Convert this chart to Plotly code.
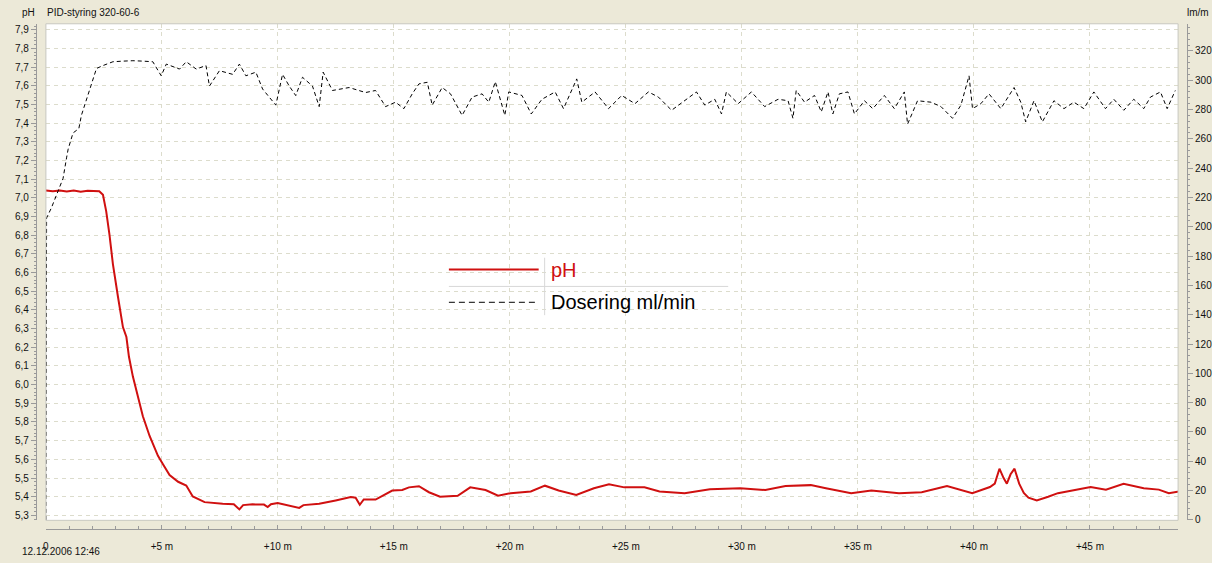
"""PID control log: pH and dosing flow over time."""
import plotly.graph_objects as go

W, H = 1212, 563

# pH curve (minutes after start, pH)
PH_MIN = [
    0, 0.3, 0.6, 0.9, 1.2, 1.5, 1.8, 2.1, 2.3, 2.46,
    2.6, 2.74, 2.89, 3.11, 3.32, 3.47, 3.58, 3.75, 3.97, 4.18,
    4.47, 4.83, 5.04, 5.33, 5.7, 6.05, 6.33, 6.84, 7.62, 8.1,
    8.34, 8.5, 8.91, 9.4, 9.56, 9.7, 9.99, 10.49, 10.92, 11.1,
    11.78, 12.49, 13.14, 13.35, 13.53, 13.7, 14.21, 14.93, 15.36, 15.65,
    16.08, 16.51, 16.99, 17.75, 18.29, 18.95, 19.49, 20.03, 20.9, 21.51,
    22.1, 22.86, 23.62, 24.27, 24.93, 25.8, 26.45, 27.53, 28.62, 29.93,
    31.01, 31.88, 32.97, 33.62, 34.71, 35.58, 36.77, 37.75, 38.84, 39.93,
    40.69, 40.9, 41.1, 41.28, 41.42, 41.58, 41.75, 41.95, 42.15, 42.35,
    42.71, 43.2, 43.62, 45.03, 45.69, 46.45, 47.32, 47.97, 48.4, 48.84,
]
PH_VAL = [
    7.04, 7.035, 7.04, 7.034, 7.04, 7.033, 7.038, 7.036, 7.035, 7.016,
    6.928, 6.803, 6.644, 6.468, 6.308, 6.255, 6.149, 6.043, 5.937, 5.831,
    5.725, 5.619, 5.575, 5.516, 5.48, 5.46, 5.401, 5.371, 5.362, 5.36,
    5.332, 5.355, 5.359, 5.358, 5.345, 5.36, 5.366, 5.35, 5.34, 5.355,
    5.362, 5.38, 5.398, 5.395, 5.357, 5.385, 5.385, 5.433, 5.436, 5.45,
    5.456, 5.424, 5.40, 5.405, 5.45, 5.436, 5.405, 5.419, 5.428, 5.459,
    5.433, 5.41, 5.445, 5.467, 5.45, 5.45, 5.428, 5.419, 5.44, 5.445,
    5.436, 5.457, 5.462, 5.445, 5.419, 5.433, 5.419, 5.424, 5.457, 5.419,
    5.452, 5.47, 5.55, 5.50, 5.47, 5.52, 5.55, 5.47, 5.42, 5.395,
    5.38, 5.40, 5.419, 5.452, 5.438, 5.469, 5.445, 5.438, 5.419, 5.428,
]

# dosing flow (minutes after start, ml/min)
DOS_MIN = [
    0, 0.03, 0.24, 0.46, 0.6, 0.74, 0.89, 0.96, 1.17, 1.42,
    1.53, 1.75, 1.96, 2.18, 2.46, 2.89, 3.3, 3.75, 4.2, 4.61,
    4.97, 5.19, 5.76, 6.05, 6.48, 6.9, 7.05, 7.48, 8.05, 8.34,
    8.62, 9.05, 9.34, 9.91, 10.2, 10.49, 10.77, 11.06, 11.49, 11.78,
    11.95, 12.35, 13.07, 13.78, 14.21, 14.64, 15.07, 15.43, 15.79, 16.08,
    16.44, 16.65, 17.08, 17.44, 17.94, 18.37, 18.8, 19.09, 19.37, 19.78,
    19.95, 20.52, 20.92, 21.38, 21.95, 22.31, 22.88, 23.1, 23.67, 24.25,
    24.82, 25.39, 25.97, 26.4, 26.97, 27.54, 28.04, 28.4, 28.83, 29.12,
    29.33, 29.84, 30.41, 30.98, 31.56, 31.99, 32.2, 32.34, 32.7, 33.13,
    33.42, 33.71, 33.92, 34.2, 34.57, 34.85, 35.28, 35.64, 36.14, 36.57,
    37.0, 37.14, 37.57, 38.15, 38.58, 39.08, 39.44, 39.79, 39.94, 40.3,
    40.65, 41.16, 41.73, 42.02, 42.23, 42.59, 42.95, 43.45, 43.88, 44.31,
    44.74, 45.17, 45.67, 46.03, 46.46, 46.89, 47.32, 47.61, 48.04, 48.33,
    48.68,
]
DOS_VAL = [
    0, 206, 213, 222, 228, 233, 247, 253, 264, 267,
    276, 287, 296, 308, 310, 312.6, 313, 313.3, 313, 312.6,
    303, 311, 307.6, 312.6, 307.6, 310, 296, 306.5, 304, 311,
    303, 305.5, 294, 283, 304, 296, 289.5, 302, 296, 282,
    305.5, 293, 295, 291.6, 293, 282, 285, 280.6, 290.7, 297.5,
    298.6, 283, 295, 290.7, 276, 288.5, 290.7, 285, 299, 276,
    292, 289.6, 277, 287, 292, 280.6, 300.9, 285, 292, 280.6,
    289.6, 284, 292, 288.5, 279.5, 286, 292, 283, 287, 277,
    292, 284, 292, 282, 287, 286, 274, 293, 285, 289.6,
    278.4, 292, 277, 290.7, 292, 277, 286, 280.6, 289.6, 280.6,
    292, 270, 286, 285, 282, 274, 283, 303, 280.6, 284,
    290.7, 280.6, 295, 285, 271.6, 286, 271.6, 286, 280.6, 285,
    280.6, 292, 280.6, 287, 279.5, 287, 280.6, 288.5, 292, 280.6,
    293,
]

X_TICKS = [0, 5, 10, 15, 20, 25, 30, 35, 40, 45]
X_LABELS = ["0"] + [f"+{m} m" for m in X_TICKS[1:]]

BG = "#ECE9D8"
AXIS_GREY = "#9a9a9a"
GRID = "#dcdccc"
RED = "#d01010"
FONT = "Liberation Sans"


def px_x(x):
    return x / W


def px_y(y):
    return (H - y) / H


figure = go.Figure()
figure.add_trace(
    go.Scatter(
        x=DOS_MIN, y=DOS_VAL, mode="lines", yaxis="y2",
        line={"color": "black", "width": 1, "dash": "4px,3px"},
        name="Dosering ml/min",
    )
)
figure.add_trace(
    go.Scatter(
        x=PH_MIN, y=PH_VAL, mode="lines",
        line={"color": RED, "width": 2},
        name="pH",
    )
)

tick_font = {"family": FONT, "size": 10, "color": "#111"}
figure.update_layout(
    width=W, height=H,
    margin={"l": 0, "r": 0, "t": 0, "b": 0},
    paper_bgcolor=BG, plot_bgcolor="white",
    separators=",.",
    showlegend=False,
    font=tick_font,
    xaxis={
        "domain": [px_x(43), px_x(1178)],
        "range": [0, 48.8],
        "anchor": "free", "position": px_y(533.5),
        "tickvals": X_TICKS, "ticktext": X_LABELS,
        "ticks": "inside", "ticklen": 4, "tickcolor": AXIS_GREY,
        "ticklabelstandoff": 8,
        "showline": True, "linecolor": AXIS_GREY,
        "showgrid": True, "gridcolor": GRID, "griddash": "4px,4px",
        "zeroline": False,
        "minor": {"dtick": 1, "ticks": "inside", "ticklen": 3,
                  "tickcolor": AXIS_GREY, "showgrid": False},
    },
    yaxis={
        "domain": [px_y(525), px_y(24)],
        "range": [5.2735, 7.932],
        "anchor": "free", "position": px_x(33),
        "dtick": 0.1, "tick0": 5.3, "tickformat": ".1f",
        "ticks": "outside", "ticklen": 5, "tickcolor": AXIS_GREY,
        "showline": True, "linecolor": AXIS_GREY,
        "showgrid": True, "gridcolor": GRID, "griddash": "4px,4px",
        "zeroline": False,
        "minor": {"dtick": 0.02, "ticks": "outside", "ticklen": 2,
                  "tickcolor": AXIS_GREY, "showgrid": False},
    },
    yaxis2={
        "overlaying": "y", "side": "right",
        "range": [-0.3, 338.5],
        "anchor": "free", "position": px_x(1187),
        "dtick": 20, "tick0": 0,
        "ticks": "outside", "ticklen": 5, "tickcolor": AXIS_GREY,
        "showline": True, "linecolor": AXIS_GREY,
        "showgrid": False, "zeroline": False,
        "minor": {"dtick": 4, "ticks": "outside", "ticklen": 2,
                  "tickcolor": AXIS_GREY},
    },
)

# plot area border
figure.add_shape(type="rect", xref="paper", yref="paper",
                 x0=px_x(43), x1=px_x(1178), y0=px_y(525), y1=px_y(24),
                 line={"color": "#c8c8c0", "width": 1})

texts = [
    ("pH", 33, 13, "right", "middle"),
    ("PID-styring 320-60-6", 43, 13, "left", "middle"),
    ("lm/m", 1186, 13, "left", "middle"),
    ("12.12.2006 12:46", 18, 563, "left", "bottom"),
]
for text, x, y, xalign, yalign in texts:
    figure.add_annotation(text=text, xref="paper", yref="paper",
                          x=px_x(x), y=px_y(y), xanchor=xalign, yanchor=yalign,
                          showarrow=False, borderpad=0,
                          font={"family": FONT, "size": 10, "color": "#111"})

# legend box drawn by hand, like the original software
figure.add_shape(type="line", xref="paper", yref="paper",
                 x0=px_x(447), x1=px_x(727), y0=px_y(289), y1=px_y(289),
                 line={"color": "#d8d8d8", "width": 1})
figure.add_shape(type="line", xref="paper", yref="paper",
                 x0=px_x(543), x1=px_x(543), y0=px_y(260), y1=px_y(318),
                 line={"color": "#d8d8d8", "width": 1})
figure.add_shape(type="line", xref="paper", yref="paper",
                 x0=px_x(447), x1=px_x(537), y0=px_y(272), y1=px_y(272),
                 line={"color": RED, "width": 2})
figure.add_shape(type="line", xref="paper", yref="paper",
                 x0=px_x(447), x1=px_x(537), y0=px_y(305), y1=px_y(305),
                 line={"color": "black", "width": 1, "dash": "6px,4px"})
figure.add_annotation(text="pH", xref="paper", yref="paper",
                      x=px_x(547), y=px_y(272), xanchor="left", yanchor="middle",
                      showarrow=False, font={"family": FONT, "size": 20, "color": RED})
figure.add_annotation(text="Dosering ml/min", xref="paper", yref="paper",
                      x=px_x(547), y=px_y(305), xanchor="left", yanchor="middle",
                      showarrow=False, font={"family": FONT, "size": 20, "color": "black"})

figure.write_html(
    "out.html",
    config={"displayModeBar": False},
    post_script="document.body.style.margin='0';",
)
